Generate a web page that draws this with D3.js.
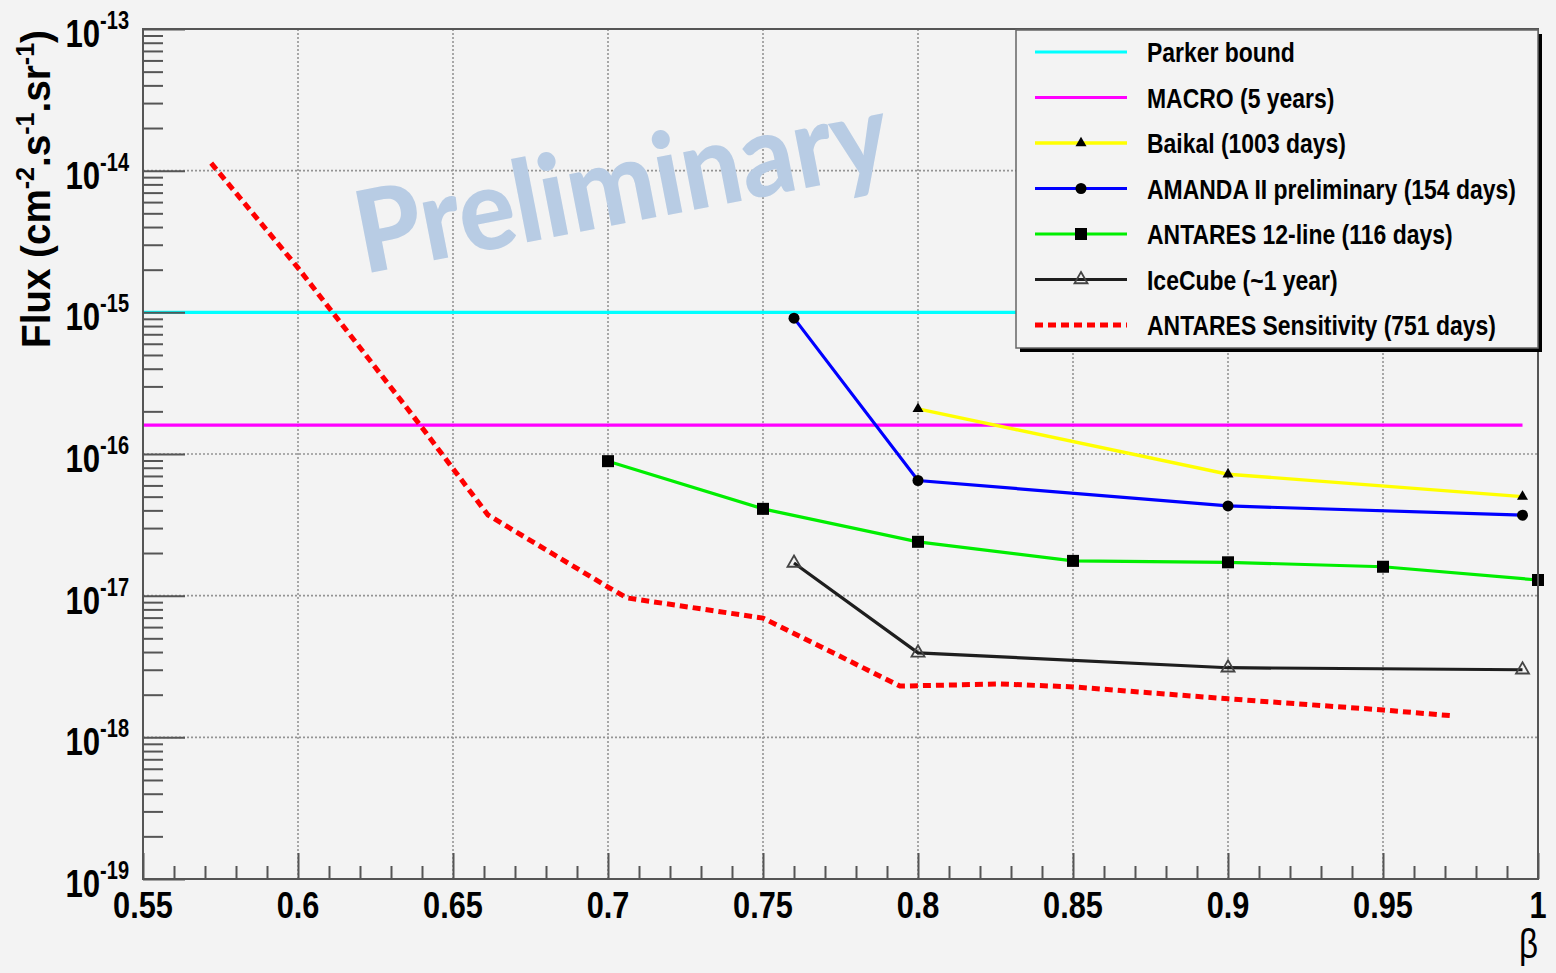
<!DOCTYPE html>
<html>
<head>
<meta charset="utf-8">
<script src="https://cdn.jsdelivr.net/npm/d3@7/dist/d3.min.js"></script>
<style>
  html, body { margin: 0; padding: 0; background: #f3f3f3; }
  svg { display: block; }
</style>
</head>
<body>
<svg id="chart" width="1556" height="973"></svg>
<script>
// Magnetic monopole flux upper limits (cm^-2 s^-1 sr^-1) versus velocity β

const parkerBeta = [0.55, 1.0];
const parkerFlux = [1.0e-15, 1.0e-15];

const macroBeta = [0.55, 0.995];
const macroFlux = [1.6e-16, 1.6e-16];

const baikalBeta = [0.8, 0.9, 0.995];
const baikalFlux = [2.08e-16, 7.2e-17, 5.0e-17];

const amandaBeta = [0.76, 0.8, 0.9, 0.995];
const amandaFlux = [9.1e-16, 6.5e-17, 4.3e-17, 3.7e-17];

const antaresBeta = [0.7, 0.75, 0.8, 0.85, 0.9, 0.95, 1.0];
const antaresFlux = [8.9e-17, 4.1e-17, 2.4e-17, 1.76e-17, 1.72e-17, 1.6e-17, 1.29e-17];

const icecubeBeta = [0.76, 0.8, 0.9, 0.995];
const icecubeFlux = [1.7e-17, 3.95e-18, 3.1e-18, 3.0e-18];

const sensBeta = [0.572, 0.6, 0.6394, 0.6613, 0.7, 0.7061, 0.75, 0.7942, 0.8265, 0.85, 0.9, 0.95, 0.9723];
const sensFlux = [1.13e-14, 2.06e-15, 1.6e-16, 3.71e-17, 1.15e-17, 9.64e-18, 6.95e-18, 2.3e-18, 2.38e-18, 2.27e-18, 1.87e-18, 1.56e-18, 1.42e-18];

const xMajorTicks = [0.55, 0.6, 0.65, 0.7, 0.75, 0.8, 0.85, 0.9, 0.95, 1.0];
const xTickLabels = ["0.55", "0.6", "0.65", "0.7", "0.75", "0.8", "0.85", "0.9", "0.95", "1"];
const yDecades = [-19, -18, -17, -16, -15, -14, -13];

const legendLabels = [
  "Parker bound",
  "MACRO (5 years)",
  "Baikal (1003 days)",
  "AMANDA II preliminary (154 days)",
  "ANTARES 12-line (116 days)",
  "IceCube (~1 year)",
  "ANTARES Sensitivity (751 days)"
];

const FONT = "'Liberation Sans', Arial, Helvetica, sans-serif";
const BG = "#f3f3f3";
const AXIS = "#555555";

const svg = d3.select("#chart");
const x = d3.scaleLinear().domain([0.55, 1.0]).range([143, 1538]);
const y = d3.scaleLog().domain([1e-19, 1e-13]).range([879, 29]);
const [x0, x1] = x.range();
const [yb, yt] = y.range();

svg.append("rect").attr("width", 1556).attr("height", 973).attr("fill", BG);

// dotted grid at the major ticks
const grid = svg.append("g")
  .attr("stroke", "#949494").attr("stroke-width", 1.6).attr("stroke-dasharray", "2,2");
grid.append("g").selectAll("line")
  .data(xMajorTicks.filter(v => v > 0.551 && v < 0.999))
  .join("line")
  .attr("x1", d => x(d)).attr("x2", d => x(d))
  .attr("y1", yt).attr("y2", yb);
grid.append("g").selectAll("line")
  .data(yDecades.filter(e => e > -19 && e < -13).map(e => Math.pow(10, e)))
  .join("line")
  .attr("y1", d => y(d)).attr("y2", d => y(d))
  .attr("x1", x0).attr("x2", x1);

// watermark
const wm = svg.append("text")
  .attr("font-family", "Lato, 'Open Sans', sans-serif")
  .attr("font-weight", 900)
  .attr("font-size", 114)
  .attr("fill", "rgb(184,204,228)")
  .text("Preliminary");
{
  const len = wm.node().getComputedTextLength();
  const k = 540 / len;
  wm.attr("transform", `translate(364,274) rotate(-11) scale(${k},1)`);
}

// series lines
const line = d3.line().x(d => x(d[0])).y(d => y(d[1]));
const zip = (a, b) => a.map((v, i) => [v, b[i]]);

const plot = svg.append("g");
plot.append("path").attr("d", line(zip(parkerBeta, parkerFlux)))
  .attr("fill", "none").attr("stroke", "#00ffff").attr("stroke-width", 3.2);
plot.append("path").attr("d", line(zip(macroBeta, macroFlux)))
  .attr("fill", "none").attr("stroke", "#ff00ff").attr("stroke-width", 3.2);
plot.append("path").attr("d", line(zip(sensBeta, sensFlux)))
  .attr("fill", "none").attr("stroke", "#ff0000").attr("stroke-width", 5)
  .attr("stroke-dasharray", "8,5");
plot.append("path").attr("d", line(zip(baikalBeta, baikalFlux)))
  .attr("fill", "none").attr("stroke", "#ffff00").attr("stroke-width", 3.4);
plot.append("path").attr("d", line(zip(amandaBeta, amandaFlux)))
  .attr("fill", "none").attr("stroke", "#0000ff").attr("stroke-width", 3.2);
plot.append("path").attr("d", line(zip(antaresBeta, antaresFlux)))
  .attr("fill", "none").attr("stroke", "#00ee00").attr("stroke-width", 3.2);
plot.append("path").attr("d", line(zip(icecubeBeta, icecubeFlux)))
  .attr("fill", "none").attr("stroke", "#1e1e1e").attr("stroke-width", 3.2);

// marker shapes
function triPath(cx, cy, s) {
  const h = s * Math.sqrt(3) / 2;
  return `M${cx},${cy - h * 2 / 3}L${cx + s / 2},${cy + h / 3}L${cx - s / 2},${cy + h / 3}Z`;
}
function drawFilledTri(g, cx, cy, s) {
  g.append("path").attr("d", triPath(cx, cy, s)).attr("fill", "#000");
}
function drawOpenTri(g, cx, cy, s) {
  g.append("path").attr("d", triPath(cx, cy, s))
    .attr("fill", "none").attr("stroke", "#444").attr("stroke-width", 1.8);
}
function drawCircle(g, cx, cy, r) {
  g.append("circle").attr("cx", cx).attr("cy", cy).attr("r", r).attr("fill", "#000");
}
function drawSquare(g, cx, cy, s) {
  g.append("rect").attr("x", cx - s / 2).attr("y", cy - s / 2)
    .attr("width", s).attr("height", s).attr("fill", "#000");
}

const marks = svg.append("g");
zip(baikalBeta, baikalFlux).forEach(d => drawFilledTri(marks, x(d[0]), y(d[1]), 11));
zip(amandaBeta, amandaFlux).forEach(d => drawCircle(marks, x(d[0]), y(d[1]), 5.5));
zip(antaresBeta, antaresFlux).forEach(d => drawSquare(marks, x(d[0]), y(d[1]), 12));
zip(icecubeBeta, icecubeFlux).forEach(d => drawOpenTri(marks, x(d[0]), y(d[1]), 13));

// axes
const xMinor = d3.range(55, 101).map(v => v / 100).filter(v => Math.round(v * 100) % 5 !== 0);
const yMajorVals = yDecades.map(e => Math.pow(10, e));
const yMinorVals = [];
yDecades.slice(0, -1).forEach(e => { for (let k = 2; k <= 9; k++) yMinorVals.push(k * Math.pow(10, e)); });

function styleAxis(g) {
  g.select(".domain").remove();
  g.selectAll(".tick line").attr("stroke", AXIS).attr("stroke-width", 2);
  g.selectAll(".tick text").remove();
}

svg.append("g").attr("transform", `translate(0,${yb})`)
  .call(d3.axisBottom(x).tickValues(xMajorTicks).tickSize(-26).tickFormat(""))
  .call(styleAxis);
svg.append("g").attr("transform", `translate(0,${yb})`)
  .call(d3.axisBottom(x).tickValues(xMinor).tickSize(-13).tickFormat(""))
  .call(styleAxis);
svg.append("g").attr("transform", `translate(${x0},0)`)
  .call(d3.axisLeft(y).tickValues(yMajorVals).tickSize(-42).tickFormat(""))
  .call(styleAxis);
svg.append("g").attr("transform", `translate(${x0},0)`)
  .call(d3.axisLeft(y).tickValues(yMinorVals).tickSize(-20).tickFormat(""))
  .call(styleAxis);

// frame
svg.append("rect").attr("x", x0).attr("y", yt).attr("width", x1 - x0).attr("height", yb - yt)
  .attr("fill", "none").attr("stroke", AXIS).attr("stroke-width", 2);

// x tick labels
xMajorTicks.forEach((v, i) => {
  svg.append("text")
    .attr("transform", `translate(${x(v)},918) scale(0.83,1)`)
    .attr("text-anchor", "middle")
    .attr("font-family", FONT).attr("font-weight", "bold").attr("font-size", 37)
    .attr("fill", "#000")
    .text(xTickLabels[i]);
});

// y tick labels as powers of ten
yDecades.forEach(e => {
  const t = svg.append("text")
    .attr("transform", `translate(129,${y(Math.pow(10, e))}) scale(0.8,1)`)
    .attr("text-anchor", "end")
    .attr("font-family", FONT).attr("font-weight", "bold").attr("font-size", 39)
    .attr("fill", "#000")
    .attr("y", 18);
  t.append("tspan").text("10");
  t.append("tspan").attr("font-size", 25).attr("dy", -18).text(String(e));
});

// axis titles
const ytitle = svg.append("text")
  .attr("text-anchor", "middle")
  .attr("font-family", FONT).attr("font-weight", "bold").attr("font-size", 40)
  .attr("fill", "#000");
ytitle.append("tspan").text("Flux (cm");
ytitle.append("tspan").attr("font-size", 26).attr("dy", -16).text("-2");
ytitle.append("tspan").attr("dy", 16).text(".s");
ytitle.append("tspan").attr("font-size", 26).attr("dy", -16).text("-1");
ytitle.append("tspan").attr("dy", 16).text(".sr");
ytitle.append("tspan").attr("font-size", 26).attr("dy", -16).text("-1");
ytitle.append("tspan").attr("dy", 16).text(")");
{
  const len = ytitle.node().getComputedTextLength();
  const k = 318 / len;
  ytitle.attr("transform", `translate(50,189) rotate(-90) scale(${k},1)`);
}

svg.append("text")
  .attr("transform", "translate(1538,958) scale(0.83,1)")
  .attr("text-anchor", "end")
  .attr("font-family", FONT).attr("font-size", 40)
  .attr("fill", "#000")
  .text("β");

// legend
const lg = svg.append("g");
const lx = 1016, ly = 30, lw = 522, lh = 318;
lg.append("rect").attr("x", lx + 4).attr("y", ly + 4).attr("width", lw).attr("height", lh).attr("fill", "#000");
lg.append("rect").attr("x", lx).attr("y", ly).attr("width", lw).attr("height", lh)
  .attr("fill", BG).attr("stroke", "#666").attr("stroke-width", 1.5);

const rowY = i => 52 + i * 45.5;
const legendStyles = [
  { color: "#00ffff", w: 3.2 },
  { color: "#ff00ff", w: 3.2 },
  { color: "#ffff00", w: 3.4, marker: "tri" },
  { color: "#0000ff", w: 3.2, marker: "circle" },
  { color: "#00ee00", w: 3.2, marker: "square" },
  { color: "#1e1e1e", w: 3.2, marker: "open" },
  { color: "#ff0000", w: 5, dash: "8,5" }
];
legendLabels.forEach((label, i) => {
  const cy = rowY(i);
  const st = legendStyles[i];
  const ln = lg.append("line").attr("x1", 1035).attr("x2", 1127).attr("y1", cy).attr("y2", cy)
    .attr("stroke", st.color).attr("stroke-width", st.w);
  if (st.dash) ln.attr("stroke-dasharray", st.dash);
  if (st.marker === "tri") drawFilledTri(lg, 1081, cy, 11);
  if (st.marker === "circle") drawCircle(lg, 1081, cy, 5.5);
  if (st.marker === "square") drawSquare(lg, 1081, cy, 12);
  if (st.marker === "open") drawOpenTri(lg, 1081, cy, 13);
  lg.append("text")
    .attr("transform", `translate(1147,${cy + 10}) scale(0.85,1)`)
    .attr("font-family", FONT).attr("font-weight", "bold").attr("font-size", 27)
    .attr("fill", "#000")
    .text(label);
});
</script>
</body>
</html>
